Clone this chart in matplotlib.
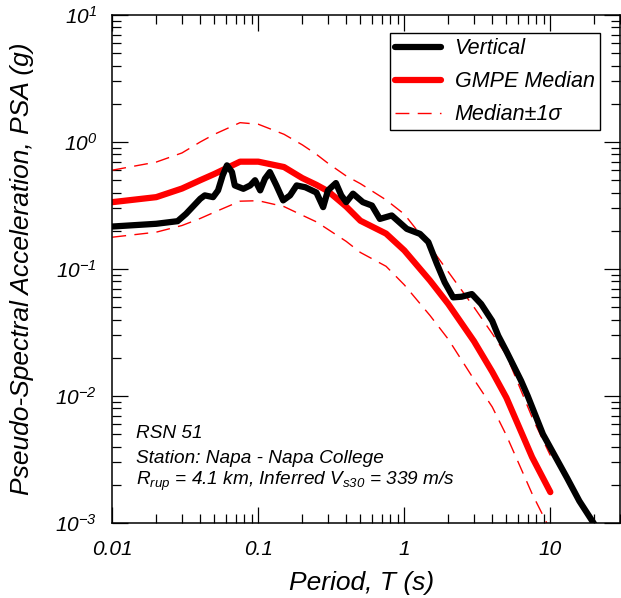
import matplotlib
matplotlib.use("Agg")
import matplotlib.pyplot as plt
from matplotlib.ticker import FixedLocator, FuncFormatter, LogLocator, NullFormatter

plt.rcParams['font.family'] = ['Liberation Sans', 'DejaVu Sans']
plt.rcParams['font.style'] = 'italic'
plt.rcParams['mathtext.fontset'] = 'custom'
plt.rcParams['mathtext.it'] = 'Liberation Sans:italic'
plt.rcParams['mathtext.rm'] = 'Liberation Sans:italic'

# GMPE median and +/- 1 sigma (periods in s, PSA in g)
period_gmpe = [0.01, 0.02, 0.03, 0.04, 0.05, 0.075, 0.1, 0.15, 0.2, 0.25, 0.3,
               0.4, 0.5, 0.75, 1.0, 1.5, 2.0, 3.0, 4.0, 5.0, 7.5, 10.0]
psa_median = [0.336, 0.368, 0.43, 0.50, 0.56, 0.70, 0.70, 0.635, 0.52, 0.46, 0.41,
              0.31, 0.24, 0.19, 0.14, 0.081, 0.053, 0.027, 0.0155, 0.0097, 0.0033, 0.00175]
psa_plus = [0.60, 0.695, 0.82, 1.0, 1.15, 1.42, 1.38, 1.15, 0.95, 0.80, 0.68,
            0.54, 0.47, 0.35, 0.27, 0.15, 0.095, 0.05, 0.031, 0.021, 0.0068, 0.0034]
psa_minus = [0.178, 0.195, 0.22, 0.25, 0.28, 0.342, 0.345, 0.31, 0.265, 0.235, 0.205,
             0.165, 0.135, 0.105, 0.075, 0.043, 0.028, 0.0135, 0.0082, 0.0049, 0.0017, 0.00088]

# recorded vertical component
period_vert = [0.01, 0.02, 0.028, 0.032, 0.040, 0.043, 0.049, 0.053, 0.057, 0.061,
               0.066, 0.069, 0.079, 0.088, 0.095, 0.103, 0.111, 0.12, 0.133, 0.148,
               0.165, 0.183, 0.21, 0.25, 0.278, 0.30, 0.34, 0.37, 0.40, 0.445,
               0.52, 0.60, 0.68, 0.82, 1.04, 1.28, 1.46, 1.67, 1.89, 2.16,
               2.47, 2.90, 3.36, 4.0, 4.4, 5.0, 6.3, 7.0, 8.9, 13.0, 15.8, 20.0]
psa_vert = [0.216, 0.227, 0.238, 0.272, 0.357, 0.38, 0.368, 0.416, 0.546, 0.655,
            0.58, 0.455, 0.428, 0.455, 0.50, 0.416, 0.514, 0.58, 0.455, 0.347,
            0.38, 0.455, 0.44, 0.40, 0.307, 0.416, 0.475, 0.38, 0.336, 0.392,
            0.336, 0.316, 0.248, 0.264, 0.207, 0.189, 0.163, 0.11, 0.0786, 0.0598,
            0.0605, 0.0635, 0.053, 0.039, 0.0298, 0.0225, 0.0132, 0.0100, 0.005, 0.00227, 0.00149, 0.00098]

x_ticks = [0.01, 0.1, 1, 10]
x_tick_labels = ['0.01', '0.1', '1', '10']

W, H = 621, 598
fig = plt.figure(figsize=(W / 100, H / 100), dpi=100)
ax = fig.add_axes([112.3 / W, 1 - 523 / H, (620 - 112.3) / W, (523 - 15) / H])

h_sig, = ax.plot(period_gmpe, psa_plus, color='red', lw=1.0, dashes=(10, 6), label='Median\u00b11\u03c3')
ax.plot(period_gmpe, psa_minus, color='red', lw=1.0, dashes=(10, 6))
h_med, = ax.plot(period_gmpe, psa_median, color='red', lw=4.5, solid_capstyle='round',
                 solid_joinstyle='round', label='GMPE Median')
h_vert, = ax.plot(period_vert, psa_vert, color='black', lw=4.5, solid_capstyle='round',
                  solid_joinstyle='round', label='Vertical')

ax.set_xscale('log')
ax.set_yscale('log')
ax.set_xlim(0.01, 30)
ax.set_ylim(1e-3, 10)

ax.xaxis.set_major_locator(FixedLocator(x_ticks))
ax.xaxis.set_major_formatter(FuncFormatter(lambda v, p: x_tick_labels[x_ticks.index(v)] if v in x_ticks else ''))
ax.xaxis.set_minor_locator(LogLocator(base=10, subs=range(2, 10), numticks=20))
ax.xaxis.set_minor_formatter(NullFormatter())
ax.yaxis.set_major_locator(LogLocator(base=10, numticks=10))
ax.yaxis.set_major_formatter(FuncFormatter(lambda v, p: r'$10^{%d}$' % round(__import__('math').log10(v))))
ax.yaxis.set_minor_locator(LogLocator(base=10, subs=range(2, 10), numticks=20))
ax.yaxis.set_minor_formatter(NullFormatter())

ax.tick_params(which='both', direction='in', top=True, right=True, width=0.9, labelsize=15)
ax.tick_params(which='major', length=11.5)
ax.tick_params(which='minor', length=6.5)
ax.tick_params(axis='x', which='major', pad=12)
ax.tick_params(axis='y', which='major', pad=11)
for s in ax.spines.values():
    s.set_linewidth(1.1)

ax.set_xlabel('Period, T (s)', fontsize=19, va='center')
ax.xaxis.set_label_coords(0.49, -0.118)
ax.set_ylabel('Pseudo-Spectral Acceleration, PSA (g)', fontsize=19, va='center')
ax.yaxis.set_label_coords((22 - 112.3) / 507.7, 0.5)

leg = ax.legend([h_vert, h_med, h_sig], ['Vertical', 'GMPE Median', 'Median\u00b11\u03c3'],
                loc='upper right', bbox_to_anchor=(600 / W, 1 - 33 / H), bbox_transform=fig.transFigure,
                borderaxespad=0, fontsize=15.5, fancybox=False, framealpha=1, edgecolor='black',
                handlelength=2.1, handletextpad=0.65, borderpad=0.25, labelspacing=0.55)
leg.get_frame().set_linewidth(1.0)

tx = (136 - 112.3) / 507.7
ax.text(tx, 0.167, 'RSN 51', transform=ax.transAxes, fontsize=13.7, va='baseline')
ax.text(tx, 0.118, 'Station: Napa - Napa College', transform=ax.transAxes, fontsize=13.7, va='baseline')
ax.text(tx, 0.075, r'$R_{rup}$ = 4.1 km, Inferred $V_{s30}$ = 339 m/s', transform=ax.transAxes,
        fontsize=13.7, va='baseline')

fig.savefig('out.png', dpi=100)
